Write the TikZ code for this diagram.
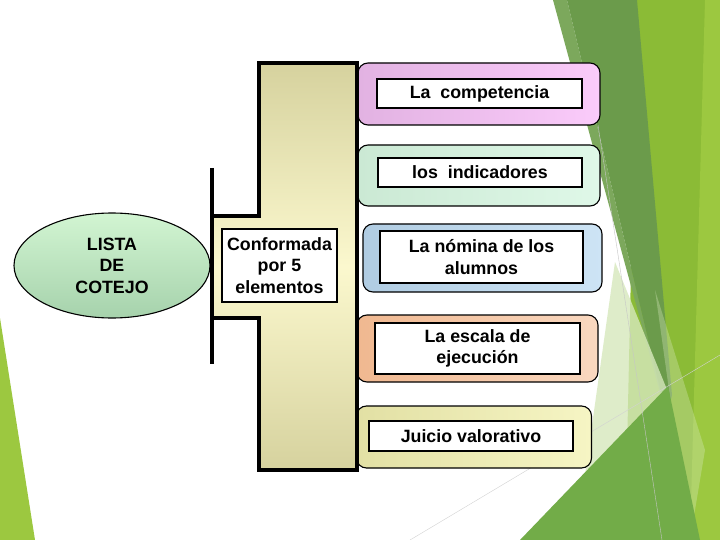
\documentclass[tikz,border=0pt]{standalone}
\usepackage{fontspec}
\setmainfont{Liberation Sans}
\usetikzlibrary{shapes.geometric,positioning}

\begin{document}
\begin{tikzpicture}[x=1pt, y=-1pt,
    lbl/.style={font=\fontsize{17.8}{21.5}\selectfont\bfseries, align=center},
    itembox/.style={draw=black, line width=1.1pt, rounded corners=10pt, inner sep=0pt},
    textbox/.style={lbl, draw=black, line width=1.1pt, fill=white, inner sep=0pt}]

    % Colours
    \definecolor{leafDk}{HTML}{6B9B4B}
    \definecolor{leafDk2}{HTML}{7CA85C}
    \definecolor{leafMid}{HTML}{72AC48}
    \definecolor{leafLt}{HTML}{8BBB36}
    \definecolor{leafLt2}{HTML}{9CC840}
    \definecolor{leafPale}{HTML}{D6E8BC}
    \definecolor{pinkDk}{HTML}{E2B2E2}
    \definecolor{pinkLt}{HTML}{FACBFA}
    \definecolor{mintDk}{HTML}{CBE9D4}
    \definecolor{mintLt}{HTML}{DFF8E8}
    \definecolor{skyDk}{HTML}{B0CCE2}
    \definecolor{skyLt}{HTML}{CDE4F5}
    \definecolor{peachDk}{HTML}{F0B890}
    \definecolor{peachLt}{HTML}{F9D8C0}
    \definecolor{lemonDk}{HTML}{E2E0A4}
    \definecolor{lemonLt}{HTML}{F6F5C4}
    \definecolor{khakiDk}{HTML}{D6D29E}
    \definecolor{khakiLt}{HTML}{FBF8CE}
    \definecolor{ovalTop}{HTML}{D2F5D2}
    \definecolor{ovalBot}{HTML}{A6D2AC}

    \useasboundingbox (0,0) rectangle (720,540);
    \fill[white] (0,0) rectangle (720,540);

    % Background facets
    \fill[leafLt] (637,0) -- (720,0) -- (720,540) -- (625,540) -- cycle;
    \fill[leafLt2] (705,0) -- (720,0) -- (720,540) -- (690,540) -- cycle;
    \fill[leafDk2] (553,0) -- (567,0) -- (667,418) -- cycle;
    \fill[leafDk] (567,0) -- (637,0) -- (672,395) -- (667,418) -- cycle;
    \fill[leafPale, opacity=0.8] (615,262) -- (668,392) -- (585,475) -- cycle;
    \fill[leafPale, opacity=0.35] (655,290) -- (705,450) -- (690,540) -- cycle;
    \fill[leafMid] (520,540) -- (668,386) -- (700,540) -- cycle;
    \fill[leafLt2] (0,318) -- (35,540) -- (0,540) -- cycle;
    \draw[gray!45, line width=0.4pt] (598,125) -- (662,540);
    \draw[gray!35, line width=0.4pt] (410,540) -- (720,355);

    % Element boxes
    \node[itembox, left color=pinkDk, right color=pinkLt,
          minimum width=242pt, minimum height=62pt] (compBox) at (479,94) {};
    \node[textbox, minimum width=205pt, minimum height=29pt] (compTxt) at (479.5,93.5) {La\ \ competencia};

    \node[itembox, left color=mintDk, right color=mintLt,
          minimum width=242pt, minimum height=61pt] (indBox) at (479,175.5) {};
    \node[textbox, minimum width=204pt, minimum height=29pt] (indTxt) at (480,172.5) {los\ \ indicadores};

    \node[itembox, left color=skyDk, right color=skyLt,
          minimum width=239pt, minimum height=68pt] (nomBox) at (482.5,258) {};
    \node[textbox, minimum width=203pt, minimum height=52pt] (nomTxt) at (481.5,257) {La n\'omina de los\\alumnos};

    \node[itembox, left color=peachDk, right color=peachLt,
          minimum width=241pt, minimum height=67pt] (escBox) at (477.5,348.5) {};
    \node[textbox, minimum width=205pt, minimum height=51pt] (escTxt) at (477.5,348.5) {La escala de\\ejecuci\'on};

    \node[itembox, left color=lemonDk, right color=lemonLt,
          minimum width=235pt, minimum height=62pt] (juiBox) at (474,437) {};
    \node[textbox, minimum width=204pt, minimum height=30pt] (juiTxt) at (471,436) {Juicio valorativo};

    % Bracket body
    \draw[line width=4pt, top color=khakiDk, bottom color=khakiDk, middle color=khakiLt]
        (259,63) -- (357,63) -- (357,470) -- (259,470) -- (259,318)
        -- (212,318) -- (212,216) -- (259,216) -- cycle;
    \draw[line width=4pt] (212,168) -- (212,364);
    \node[textbox, minimum width=115pt, minimum height=73pt] (conf) at (279.5,265.5) {Conformada\\por 5\\elementos};

    % Main topic
    \node[ellipse, draw=black, line width=1.1pt, lbl, top color=ovalTop, bottom color=ovalBot,
          minimum width=196pt, minimum height=105pt, inner sep=0pt] (lista) at (112,265.5) {LISTA\\DE\\COTEJO};
\end{tikzpicture}
\end{document}
